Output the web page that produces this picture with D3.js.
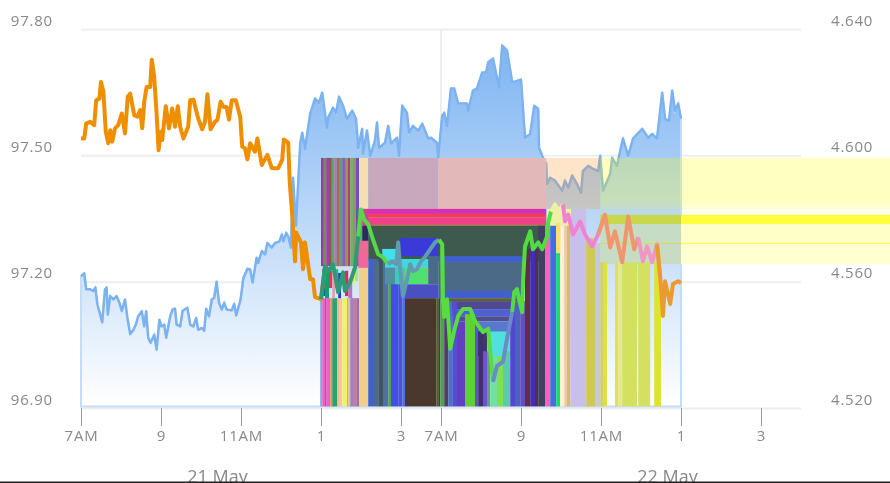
<!DOCTYPE html>
<html>
<head>
<meta charset="utf-8">
<script src="https://cdnjs.cloudflare.com/ajax/libs/d3/7.8.5/d3.min.js"></script>
<style>
  html, body { margin: 0; padding: 0; background: #fff; overflow: hidden; }
  svg { display: block; }
  #plot, .axis { filter: blur(0.45px); }
  .tick text { font-family: "Open Sans", sans-serif; fill: #888; }
</style>
</head>
<body>
<svg id="chart" width="890" height="483"></svg>
<script>
// blue area, left axis. hours are counted on the broken session axis (0 = 7AM day one, 9 = 7AM day two)
var blueHours = [0,.08,.13,.23,.31,.36,.41,.48,.53,.60,.64,.67,.73,.81,.89,.96,1.02,1.10,1.16,1.23,1.31,1.37,1.43,1.52,1.58,1.63,1.68,1.74,1.83,1.89,1.96,2.01,2.08,2.13,2.23,2.29,2.35,2.39,2.48,2.54,2.66,2.73,2.81,2.88,2.93,3.02,3.08,3.13,3.20,3.27,3.33,3.39,3.45,3.52,3.58,3.64,3.77,3.83,3.88,3.99,4.06,4.16,4.23,4.29,4.39,4.43,4.52,4.60,4.66,4.77,4.85,4.96,5.02,5.06,5.13,5.18,5.25,5.30,5.375,5.48,5.53,5.60,5.73,5.85,5.95,6.03,6.15,6.18,6.30,6.375,6.45,6.55,6.65,6.78,6.875,6.93,7.03,7.05,7.15,7.23,7.35,7.40,7.45,7.60,7.68,7.75,7.90,7.95,8.03,8.15,8.20,8.30,8.43,8.53,8.68,8.75,8.90,8.93,9.03,9.08,9.15,9.25,9.33,9.43,9.65,9.68,9.80,9.90,10.03,10.13,10.18,10.30,10.45,10.53,10.65,10.78,11.00,11.10,11.23,11.33,11.43,11.45,11.55,11.63,11.65,11.73,11.85,12.03,12.10,12.18,12.28,12.40,12.50,12.55,12.68,12.80,12.93,12.98,13.05,13.23,13.28,13.40,13.48,13.55,13.68,13.80,14.03,14.18,14.28,14.40,14.53,14.60,14.70,14.78,14.85,14.93,15];
var blueValues = [97.214,97.221,97.183,97.183,97.179,97.187,97.147,97.123,97.105,97.183,97.187,97.123,97.167,97.159,97.167,97.151,97.132,97.159,97.115,97.077,97.087,97.099,97.119,97.131,97.095,97.131,97.068,97.056,97.075,97.040,97.111,97.095,97.099,97.068,97.119,97.135,97.137,97.099,97.095,97.132,97.139,97.099,97.095,97.115,97.087,97.091,97.085,97.137,97.119,97.159,97.163,97.201,97.151,97.135,97.151,97.135,97.133,97.148,97.121,97.159,97.210,97.232,97.230,97.199,97.258,97.246,97.274,97.266,97.293,97.282,97.293,97.297,97.313,97.297,97.317,97.309,97.282,97.448,97.334,97.529,97.555,97.517,97.600,97.636,97.626,97.650,97.567,97.591,97.614,97.602,97.640,97.619,97.588,97.607,97.588,97.519,97.564,97.505,97.560,97.500,97.536,97.579,97.519,97.531,97.571,97.529,97.543,97.500,97.619,97.602,97.555,97.571,97.560,97.576,97.541,97.543,97.531,97.495,97.595,97.602,97.571,97.660,97.660,97.624,97.624,97.607,97.655,97.660,97.698,97.698,97.722,97.731,97.662,97.762,97.750,97.674,97.681,97.543,97.552,97.619,97.612,97.519,97.495,97.481,97.433,97.448,97.441,97.417,97.441,97.424,97.453,97.433,97.412,97.464,97.476,97.469,97.464,97.500,97.417,97.457,97.495,97.476,97.512,97.541,97.500,97.541,97.564,97.543,97.552,97.541,97.650,97.588,97.583,97.655,97.607,97.624,97.588];

// orange line, right axis
var orangeHours = [0,.08,.13,.23,.33,.38,.46,.50,.56,.62,.68,.73,.78,.85,.93,1.02,1.10,1.17,1.23,1.33,1.41,1.48,1.53,1.58,1.64,1.73,1.77,1.83,1.89,1.94,1.99,2.03,2.12,2.20,2.28,2.35,2.42,2.48,2.56,2.68,2.73,2.81,2.93,3.03,3.10,3.16,3.24,3.35,3.41,3.49,3.56,3.64,3.70,3.77,3.87,3.98,4.03,4.10,4.16,4.23,4.35,4.41,4.52,4.66,4.77,4.93,5.03,5.07,5.18,5.22,5.29,5.30,5.35,5.38,5.50,5.55,5.60,5.73,5.80,5.85,6.00,6.10,6.20,6.30,6.43,6.55,6.60,6.73,6.85,6.93,7.00,7.08,7.18,7.30,7.43,7.55,7.68,7.78,7.88,7.93,7.98,8.05,8.15,8.23,8.30,8.40,8.50,8.60,8.73,8.85,8.95,9.03,9.05,9.08,9.15,9.23,9.33,9.43,9.55,9.73,9.85,10.05,10.18,10.30,10.40,10.55,10.68,10.78,10.83,10.90,10.95,11.03,11.05,11.10,11.23,11.30,11.43,11.53,11.65,11.68,11.75,11.85,11.95,12.05,12.10,12.18,12.30,12.48,12.60,12.78,12.93,13.10,13.23,13.35,13.53,13.68,13.83,13.93,14.05,14.15,14.28,14.40,14.48,14.55,14.60,14.73,14.80,14.93,15];
var orangeValues = [4.6055,4.6055,4.6102,4.6108,4.6097,4.6176,4.6181,4.6234,4.6202,4.6076,4.6040,4.6081,4.6045,4.6087,4.6097,4.6134,4.6071,4.6187,4.6197,4.6129,4.6124,4.6145,4.6087,4.6171,4.6218,4.6218,4.6304,4.6250,4.6134,4.6018,4.6076,4.6050,4.6157,4.6087,4.6150,4.6092,4.6157,4.6092,4.6055,4.6092,4.6176,4.6178,4.6118,4.6084,4.6108,4.6195,4.6084,4.6108,4.6113,4.6171,4.6155,4.6155,4.6115,4.6176,4.6176,4.6124,4.6029,4.6024,4.5989,4.6040,4.6013,4.6055,4.5971,4.6003,4.5961,4.5961,4.5987,4.6052,4.6042,4.5914,4.5798,4.5767,4.5666,4.5757,4.5726,4.5641,4.5726,4.5609,4.5609,4.5553,4.5546,4.5650,4.5635,4.5657,4.5568,4.5631,4.5572,4.5600,4.5647,4.5745,4.5830,4.5798,4.5783,4.5735,4.5688,4.5679,4.5657,4.5666,4.5657,4.5726,4.5641,4.5556,4.5609,4.5657,4.5635,4.5641,4.5666,4.5679,4.5704,4.5726,4.5735,4.5720,4.5546,4.5490,4.5546,4.5389,4.5446,4.5493,4.5515,4.5515,4.5477,4.5442,4.5452,4.5285,4.5335,4.5348,4.5442,4.5505,4.5568,4.5578,4.5546,4.5505,4.5600,4.5713,4.5761,4.5704,4.5726,4.5704,4.5745,4.5789,4.5824,4.5846,4.5824,4.5846,4.5792,4.5814,4.5751,4.5792,4.5751,4.5713,4.5751,4.5814,4.5710,4.5761,4.5663,4.5808,4.5704,4.5742,4.5666,4.5713,4.5663,4.5720,4.5616,4.5493,4.5603,4.5531,4.5594,4.5603,4.5597];

// the same line changes colour where the glitched bands sit behind it
var lineBreaks = [0,6,6.93,7.6,8.9,10.2,10.7,11.7,12,12.93,13.9,14.4,15];
var lineColors = ["#ee8e00","#2f9a78","#55d84a","#5f9cb0","#58dc40","#6a8ac8","#52dc42","#eef0a8","#f082d6","#f0966e","#f096c4","#ec9a30"];

// tick labels
var leftTicks = [97.8,97.5,97.2,96.9];
var rightTicks = [4.64,4.60,4.56,4.52];
var xTickHours = [0,2,4,6,8,9,11,13,15,17];
var xTickLabels = ["7AM","9","11AM","1","3","7AM","9","11AM","1","3"];
var dayHours = [3.4,14.65];
var dayLabels = ["21 May","22 May"];

// horizontal blocks behind the stripes
var rowFrom = [6.93,7.18,8.93,12.98,12.98,12.98,15,12.98,15,12.98,15,12.98,15,12.98,15,7.05,7.05,7.05,7.05,7.18,8.93,8.93,8.93,9.08,9.18,9.28,9.40,9.85,9.85,10.15];
var rowTo = [7.18,8.93,11.63,20.3,20.3,20.3,20.3,15,20.3,15,20.3,15,20.3,15,20.3,11.63,11.63,11.63,11.63,11.6,11.03,11.03,11.03,10.98,10.85,10.85,10.73,10.73,10.73,10.73];
var rowHigh = [97.495,97.495,97.495,97.495,97.386,97.374,97.360,97.360,97.338,97.338,97.293,97.293,97.290,97.290,97.279,97.374,97.362,97.353,97.338,97.334,97.262,97.248,97.179,97.162,97.155,97.136,97.119,97.107,97.083,97.083];
var rowLow = [97.374,97.374,97.374,97.386,97.374,97.360,97.338,97.338,97.293,97.293,97.290,97.290,97.243,97.243,97.243,97.362,97.353,97.338,97.334,97.25,97.248,97.179,97.162,97.155,97.136,97.119,97.107,97.083,97.024,97.024];
var rowColors = ["#f3dfb0","#c8a8bc","#e3b8b8","#ffff00","#ffff00","#ffff00","#ffff40","#c8d84c","#ffffc8","#c6dcc4","#ffff50","#d8e050","#ffffd0","#c8dcc4","#ffffd0","#d830b0","#f04058","#f0408c","#c86048","#3e5a4e","#4060d0","#4a6a88","#4060d0","#606030","#504890","#5060d0","#505090","#5878d0","#403868","#50e0e0"];
var rowOpacity = [1,1,1,.25,.18,.07,1,1,1,1,1,1,1,1,1,1,1,1,1,1,1,1,1,1,1,1,1,1,1,1];

// orange wash over the area between 9AM and 11AM on day two
var washFrom = [11.63];
var washTo = [12.98];
var washHigh = [97.495];
var washLow = [97.374];
var washColors = ["#fa9628"];

// thin stripes at the top of the first block
var topEdges = [6,6.07,6.13,6.2,6.27,6.33,6.4,6.47,6.53,6.6,6.67,6.73,6.8,6.87,6.95];
var topColors = ["#9040a0","#7a8a50","#a040a0","#806040","#70a060","#a080b0","#a07040","#60a070","#8060c0","#a09050","#b04070","#70b070","#a09060","#7050c0"];

// stripes that run down to the floor of the plot
var stripeFrom = [5.98,6.03,6.1,6.14,6.23,6.28,6.4,6.45,6.53,6.65,6.68,6.73,6.8,6.88,6.95,7.18,7.3,7.43,7.55,7.68,7.75,7.93,8.03,8.1,8.88,8.93,8.98,9.08,9.18,9.28,9.4,9.6,9.85,9.93,10.05,10.15,10.23,10.4,10.55,10.73,10.85,10.98,11.1,11.23,11.35,11.43,11.6,11.73,11.88,11.98,12.08,12.15,12.23,12.63,12.8,12.85,12.98,13.05,13.35,13.43,13.53,13.93,14.33];
var stripeTo = [6.03,6.1,6.14,6.23,6.28,6.4,6.45,6.53,6.65,6.68,6.73,6.8,6.88,6.95,7.18,7.3,7.43,7.55,7.68,7.75,7.93,8.03,8.1,8.88,8.93,8.98,9.08,9.18,9.28,9.4,9.6,9.85,9.93,10.05,10.15,10.23,10.4,10.55,10.73,10.85,10.98,11.1,11.23,11.35,11.43,11.6,11.73,11.88,11.98,12.08,12.15,12.23,12.63,12.8,12.85,12.98,13.05,13.15,13.43,13.53,13.9,14.23,14.5];
var stripeHigh = [97.162,97.162,97.162,97.162,97.162,97.162,97.162,97.162,97.162,97.162,97.162,97.162,97.162,97.162,97.234,97.255,97.255,97.255,97.255,97.255,97.255,97.255,97.255,97.162,97.162,97.162,97.279,97.155,97.155,97.155,97.107,97.124,97.107,97.083,97.036,97.036,97.024,97.024,97.036,97.155,97.155,97.155,97.279,97.279,97.279,97.334,97.334,97.341,97.269,97.334,97.334,97.338,97.374,97.305,97.293,97.293,97.247,97.247,97.247,97.247,97.247,97.247,97.247];
var stripeColors = ["#80a8e0","#f060c0","#d040b0","#f060c0","#f09050","#30a070","#e8c080","#ffc0b0","#f0f070","#f0a070","#e0c090","#a080c0","#c08090","#a070a0","#f0d088","#4060d0","#4a6a90","#405560","#5070a0","#50a060","#4050e0","#5050d0","#5070e0","#4a382f","#506030","#453f30","#50a050","#504060","#5070c0","#5050d0","#6040c0","#60d030","#6050d0","#403070","#7050d0","#60a080","#70e0a0","#80e050","#60c8b0","#5048d0","#5060c0","#6050c0","#603040","#4030b0","#503050","#404060","#ff60c0","#4070e0","#10e070","#fff0d0","#f0c8b0","#d0c060","#c8c0e8","#d0c850","#c8c868","#c8c8d8","#d0d070","#e0e040","#e0e060","#e4e890","#d4e060","#d4e060","#dce430"];
var stripeFloor = 96.905;

// small cells on top of the stripes
var cellFrom = [6.03,6.1,6.2,6.28,6.35,6.43,6.5,6.6,6.68,6.78,6.85,6.93,7.03,7.03,6.93,7.53,7.6,7.6,7.85,8.08,7.98,8.68,8.1,11.65,11.88];
var cellTo = [6.1,6.2,6.28,6.35,6.43,6.5,6.6,6.68,6.78,6.85,6.93,7.03,7.18,7.18,7.18,7.93,8.73,7.85,8.08,8.68,8.93,8.93,8.93,12.25,11.98];
var cellHigh = [97.231,97.234,97.227,97.227,97.231,97.222,97.215,97.227,97.208,97.231,97.238,97.374,97.374,97.334,97.298,97.279,97.255,97.234,97.234,97.234,97.305,97.262,97.195,97.374,97.341];
var cellLow = [97.167,97.162,97.186,97.162,97.186,97.162,97.181,97.167,97.162,97.198,97.203,97.298,97.334,97.298,97.234,97.255,97.234,97.195,97.195,97.195,97.262,97.195,97.162,97.334,97.269];
var cellColors = ["#1060a0","#10a070","#f03060","#e0a0b0","#20c070","#2040c0","#a0e0f0","#f02050","#c070c0","#e0f060","#b0e090","#40c060","#d04090","#302860","#f06898","#40e0f0","#40d8e0","#5090a0","#40c8c0","#50e070","#3a3ad8","#4a6a88","#4a50c0","#eef0a8","#ffe060"];

var svg = d3.select("#chart");

var x = d3.scaleLinear().domain([0, 18]).range([81, 801]);
var yLeft = d3.scaleLinear().domain([96.9, 97.8]).range([408.5, 29.5]);
var yRight = d3.scaleLinear().domain([4.52, 4.64]).range([408.5, 29.5]);

var defs = svg.append("defs");
var grad = defs.append("linearGradient")
    .attr("id", "areaFill")
    .attr("gradientUnits", "userSpaceOnUse")
    .attr("x1", 0).attr("x2", 0)
    .attr("y1", yLeft(d3.max(blueValues))).attr("y2", yLeft(stripeFloor));
grad.append("stop").attr("offset", 0).attr("stop-color", "#7db4f2");
grad.append("stop").attr("offset", 1).attr("stop-color", "#ffffff");

var plot = svg.append("g").attr("id", "plot");

// grid
plot.append("g").selectAll("line")
    .data(leftTicks)
    .enter().append("line")
    .attr("x1", x(0)).attr("x2", x(18))
    .attr("y1", function(d) { return yLeft(d); })
    .attr("y2", function(d) { return yLeft(d); })
    .attr("stroke", "#eeeeee")
    .attr("stroke-width", 2);

plot.append("line")
    .attr("x1", x(9)).attr("x2", x(9))
    .attr("y1", yLeft(97.8)).attr("y2", yLeft(96.9))
    .attr("stroke", "#eeeeee")
    .attr("stroke-width", 2);

// area and its line
var blue = blueHours.map(function(h, i) { return [h, blueValues[i]]; });

var area = d3.area()
    .x(function(d) { return x(d[0]); })
    .y0(yLeft(stripeFloor))
    .y1(function(d) { return yLeft(d[1]); });

plot.append("path")
    .attr("d", area(blue))
    .attr("fill", "url(#areaFill)")
    .attr("stroke", "#c4dcf8")
    .attr("stroke-width", 2);

var blueLine = d3.line()
    .x(function(d) { return x(d[0]); })
    .y(function(d) { return yLeft(d[1]); });

plot.append("path")
    .attr("d", blueLine(blue))
    .attr("fill", "none")
    .attr("stroke", "#7cb2f0")
    .attr("stroke-width", 2.5)
    .attr("stroke-linejoin", "round");

function drawRects(from, to, high, low, colors, opacity) {
  plot.append("g").selectAll("rect")
      .data(from)
      .enter().append("rect")
      .attr("x", function(d) { return x(d); })
      .attr("width", function(d, i) { return x(to[i]) - x(d); })
      .attr("y", function(d, i) { return yLeft(high[i]); })
      .attr("height", function(d, i) { return yLeft(low[i]) - yLeft(high[i]); })
      .attr("fill", function(d, i) { return colors[i]; })
      .attr("fill-opacity", function(d, i) { return opacity ? opacity[i] : 1; });
}

drawRects(rowFrom, rowTo, rowHigh, rowLow, rowColors, rowOpacity);
drawRects(washFrom, washTo, washHigh, washLow, washColors, [.25]);
drawRects(topEdges.slice(0, -1), topEdges.slice(1),
    topColors.map(function() { return 97.495; }),
    topColors.map(function() { return 97.238; }),
    topColors);
drawRects(stripeFrom, stripeTo, stripeHigh,
    stripeFrom.map(function() { return stripeFloor; }),
    stripeColors);
drawRects(cellFrom, cellTo, cellHigh, cellLow, cellColors);

// orange line, one path per colour stretch
var orange = orangeHours.map(function(h, i) { return [h, orangeValues[i]]; });

var orangeLine = d3.line()
    .x(function(d) { return x(d[0]); })
    .y(function(d) { return yRight(d[1]); });

lineColors.forEach(function(c, i) {
  var part = orange.filter(function(d) { return d[0] >= lineBreaks[i] && d[0] <= lineBreaks[i + 1]; });
  var next = orange.filter(function(d) { return d[0] > lineBreaks[i + 1]; })[0];
  if (next) part.push(next);
  plot.append("path")
      .attr("d", orangeLine(part))
      .attr("fill", "none")
      .attr("stroke", c)
      .attr("stroke-width", 4)
      .attr("stroke-linejoin", "round");
});

// axes
var axisLeft = d3.axisLeft(yLeft).tickValues(leftTicks).tickFormat(d3.format(".2f")).tickSize(0);
var gLeft = svg.append("g").attr("class", "axis").attr("transform", "translate(56,-9)").call(axisLeft);
gLeft.select(".domain").remove();

var axisRight = d3.axisRight(yRight).tickValues(rightTicks).tickFormat(d3.format(".3f")).tickSize(0);
var gRight = svg.append("g").attr("class", "axis").attr("transform", "translate(828,-9)").call(axisRight);
gRight.select(".domain").remove();

var axisBottom = d3.axisBottom(x)
    .tickValues(xTickHours)
    .tickFormat(function(d, i) { return xTickLabels[i]; })
    .tickSize(18)
    .tickPadding(4);
var gBottom = svg.append("g").attr("class", "axis").attr("transform", "translate(0,408)").call(axisBottom);
gBottom.select(".domain").remove();
gBottom.selectAll("line").attr("stroke", "#999");

var axisDays = d3.axisBottom(x)
    .tickValues(dayHours)
    .tickFormat(function(d, i) { return dayLabels[i]; })
    .tickSize(0)
    .tickPadding(0);
var gDays = svg.append("g").attr("class", "axis").attr("transform", "translate(0,470)").call(axisDays);
gDays.select(".domain").remove();

svg.selectAll(".tick text")
    .attr("font-family", null)
    .attr("font-size", 15)
    .style("letter-spacing", "0.8px");
gDays.selectAll("text").attr("font-size", 18).style("letter-spacing", "0");

// dark edge of the screenshot
svg.append("line")
    .attr("x1", 0).attr("x2", 890)
    .attr("y1", 482.5).attr("y2", 482.5)
    .attr("stroke", "#222")
    .attr("stroke-width", 2);
</script>
</body>
</html>
